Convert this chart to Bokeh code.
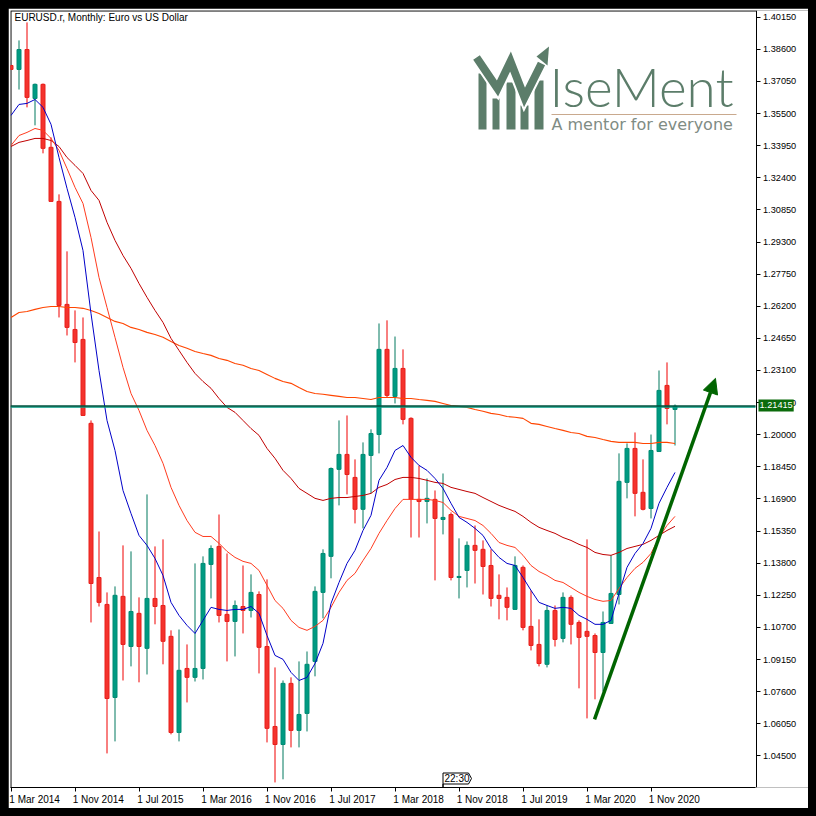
from bokeh.embed import file_html
from bokeh.models import Arrow, FixedTicker, Label, LinearAxis, NormalHead, Range1d
from bokeh.plotting import figure
from bokeh.resources import INLINE

# EURUSD.r monthly candles
opens = [1.3782, 1.3763, 1.3859, 1.3623, 1.3691, 1.3387, 1.3126, 1.2629, 1.2508, 1.2460, 1.2055, 1.1311,
         1.1181, 1.0732, 1.1220, 1.0978, 1.1138, 1.0969, 1.1210, 1.1176, 1.1027, 1.0563, 1.0872, 1.0829,
         1.0872, 1.1374, 1.1461, 1.1133, 1.1099, 1.1171, 1.1152, 1.1229, 1.0978, 1.0592, 1.0505, 1.0800,
         1.0573, 1.0655, 1.0906, 1.1239, 1.1413, 1.1833, 1.1905, 1.1794, 1.1640, 1.1900, 1.2001, 1.2412,
         1.2185, 1.2320, 1.2079, 1.1688, 1.1678, 1.1688, 1.1591, 1.1615, 1.1311, 1.1345, 1.1466, 1.1447,
         1.1369, 1.1225, 1.1215, 1.1157, 1.1360, 1.1075, 1.0988, 1.0892, 1.1152, 1.1017, 1.1215, 1.1094,
         1.1051, 1.1031, 1.0949, 1.1089, 1.1229, 1.1770, 1.1934, 1.1722, 1.1644, 1.1919, 1.2238, 1.2122]
highs = [1.3782, 1.3903, 1.3990, 1.3695, 1.3695, 1.3435, 1.3160, 1.2885, 1.2600, 1.2566, 1.2069, 1.1533,
         1.1239, 1.1268, 1.1466, 1.1437, 1.1215, 1.1712, 1.1461, 1.1495, 1.1056, 1.1060, 1.0988, 1.1379,
         1.1413, 1.1466, 1.1615, 1.1427, 1.1200, 1.1369, 1.1326, 1.1244, 1.1302, 1.0877, 1.0814, 1.0829,
         1.0906, 1.0954, 1.1268, 1.1447, 1.1842, 1.2069, 1.2093, 1.1881, 1.1963, 1.2026, 1.2537, 1.2552,
         1.2474, 1.2412, 1.2084, 1.1852, 1.1789, 1.1731, 1.1813, 1.1625, 1.1500, 1.1485, 1.1562, 1.1490,
         1.1447, 1.1326, 1.1263, 1.1413, 1.1369, 1.1249, 1.1109, 1.1176, 1.1176, 1.1239, 1.1225, 1.1104,
         1.1495, 1.1041, 1.1147, 1.1418, 1.1910, 1.1958, 1.2011, 1.1881, 1.2001, 1.2310, 1.2349, 1.2146]
lows = [1.3763, 1.3666, 1.3580, 1.3493, 1.3358, 1.3126, 1.2566, 1.2479, 1.2349, 1.2093, 1.1094, 1.1171,
        1.0462, 1.0520, 1.0814, 1.0882, 1.0805, 1.0843, 1.1085, 1.0892, 1.0554, 1.0520, 1.0708, 1.0809,
        1.0819, 1.1210, 1.1094, 1.0906, 1.0930, 1.1041, 1.1118, 1.0848, 1.0515, 1.0322, 1.0337, 1.0491,
        1.0491, 1.0568, 1.0834, 1.1114, 1.1307, 1.1659, 1.1712, 1.1572, 1.1548, 1.1717, 1.1910, 1.2180,
        1.2151, 1.2050, 1.1504, 1.1504, 1.1572, 1.1297, 1.1519, 1.1297, 1.1210, 1.1263, 1.1282, 1.1229,
        1.1171, 1.1109, 1.1104, 1.1157, 1.1056, 1.0959, 1.0882, 1.0877, 1.0978, 1.0998, 1.0988, 1.0776,
        1.0631, 1.0723, 1.0761, 1.1089, 1.1181, 1.1693, 1.1606, 1.1635, 1.1596, 1.1919, 1.2050, 1.1948]
closes = [1.3763, 1.3859, 1.3628, 1.3691, 1.3382, 1.3126, 1.2624, 1.2518, 1.2445, 1.2093, 1.1282, 1.1191,
          1.0727, 1.1225, 1.0988, 1.1147, 1.0978, 1.1210, 1.1171, 1.1003, 1.0563, 1.0863, 1.0829, 1.0872,
          1.1379, 1.1451, 1.1128, 1.1099, 1.1176, 1.1152, 1.1239, 1.0974, 1.0583, 1.0505, 1.0800, 1.0573,
          1.0650, 1.0892, 1.1244, 1.1427, 1.1837, 1.1905, 1.1808, 1.1640, 1.1905, 1.2006, 1.2412, 1.2190,
          1.2320, 1.2074, 1.1688, 1.1678, 1.1693, 1.1596, 1.1601, 1.1311, 1.1316, 1.1466, 1.1442, 1.1364,
          1.1210, 1.1210, 1.1167, 1.1369, 1.1070, 1.0983, 1.0896, 1.1152, 1.1012, 1.1215, 1.1085, 1.1022,
          1.1027, 1.0949, 1.1094, 1.1234, 1.1775, 1.1934, 1.1717, 1.1640, 1.1924, 1.2214, 1.2127, 1.2137]

# moving averages
ma_blue = [1.3541, 1.3594, 1.3599, 1.3618, 1.3580, 1.3498, 1.3338, 1.3189, 1.3049, 1.2889, 1.2585, 1.2310,
           1.2069, 1.1924, 1.1731, 1.1620, 1.1514, 1.1466, 1.1403, 1.1321, 1.1191, 1.1128, 1.1080, 1.1041,
           1.1104, 1.1167, 1.1157, 1.1152, 1.1157, 1.1157, 1.1171, 1.1138, 1.1031, 1.0935, 1.0916, 1.0853,
           1.0814, 1.0829, 1.0896, 1.0993, 1.1186, 1.1287, 1.1379, 1.1442, 1.1538, 1.1611, 1.1780, 1.1842,
           1.1924, 1.1948, 1.1891, 1.1852, 1.1828, 1.1789, 1.1741, 1.1669, 1.1601, 1.1577, 1.1548, 1.1514,
           1.1451, 1.1408, 1.1379, 1.1369, 1.1311, 1.1249, 1.1191, 1.1176, 1.1162, 1.1167, 1.1162, 1.1128,
           1.1109, 1.1085, 1.1085, 1.1104, 1.1234, 1.1360, 1.1427, 1.1475, 1.1548, 1.1669, 1.1746, 1.1818]
ma_red = [1.3396, 1.3444, 1.3459, 1.3478, 1.3469, 1.3430, 1.3372, 1.3285, 1.3194, 1.3116, 1.2952, 1.2759,
          1.2614, 1.2470, 1.2325, 1.2199, 1.2117, 1.2021, 1.1948, 1.1862, 1.1746, 1.1659, 1.1586, 1.1529,
          1.1509, 1.1509, 1.1476, 1.1437, 1.1408, 1.1389, 1.1379, 1.1345, 1.1273, 1.1200, 1.1162, 1.1104,
          1.1070, 1.1056, 1.1075, 1.1104, 1.1167, 1.1239, 1.1297, 1.1331, 1.1393, 1.1451, 1.1524, 1.1586,
          1.1644, 1.1688, 1.1688, 1.1688, 1.1688, 1.1683, 1.1673, 1.1635, 1.1606, 1.1596, 1.1586, 1.1562,
          1.1524, 1.1480, 1.1466, 1.1456, 1.1418, 1.1369, 1.1340, 1.1321, 1.1297, 1.1287, 1.1263, 1.1239,
          1.1220, 1.1205, 1.1196, 1.1200, 1.1258, 1.1311, 1.1355, 1.1384, 1.1427, 1.1504, 1.1562, 1.1606]
ma_darkred = [1.3391, 1.3411, 1.3420, 1.3430, 1.3430, 1.3420, 1.3391, 1.3338, 1.3300, 1.3261, 1.3179, 1.3131,
              1.3025, 1.2938, 1.2865, 1.2803, 1.2730, 1.2663, 1.2600, 1.2542, 1.2465, 1.2407, 1.2349, 1.2296,
              1.2257, 1.2224, 1.2175, 1.2132, 1.2108, 1.2069, 1.2030, 1.1997, 1.1934, 1.1886, 1.1828, 1.1789,
              1.1741, 1.1717, 1.1693, 1.1683, 1.1693, 1.1697, 1.1697, 1.1702, 1.1707, 1.1717, 1.1746, 1.1760,
              1.1784, 1.1794, 1.1794, 1.1789, 1.1780, 1.1770, 1.1765, 1.1746, 1.1736, 1.1726, 1.1717, 1.1697,
              1.1678, 1.1659, 1.1644, 1.1630, 1.1606, 1.1577, 1.1553, 1.1538, 1.1524, 1.1504, 1.1490, 1.1471,
              1.1456, 1.1432, 1.1422, 1.1418, 1.1432, 1.1451, 1.1461, 1.1471, 1.1490, 1.1514, 1.1538, 1.1558]
ma_orange = [1.2566, 1.2590, 1.2595, 1.2605, 1.2614, 1.2619, 1.2619, 1.2614, 1.2614, 1.2610, 1.2600, 1.2585,
             1.2566, 1.2547, 1.2537, 1.2518, 1.2508, 1.2494, 1.2484, 1.2470, 1.2450, 1.2431, 1.2417, 1.2402,
             1.2392, 1.2383, 1.2368, 1.2359, 1.2344, 1.2335, 1.2320, 1.2310, 1.2291, 1.2272, 1.2257, 1.2248,
             1.2228, 1.2209, 1.2199, 1.2195, 1.2190, 1.2185, 1.2180, 1.2180, 1.2175, 1.2170, 1.2180, 1.2180,
             1.2180, 1.2175, 1.2175, 1.2170, 1.2166, 1.2161, 1.2151, 1.2141, 1.2137, 1.2132, 1.2122, 1.2113,
             1.2103, 1.2098, 1.2088, 1.2084, 1.2079, 1.2055, 1.2050, 1.2040, 1.2030, 1.2021, 1.2011, 1.2006,
             1.1992, 1.1987, 1.1977, 1.1968, 1.1963, 1.1963, 1.1963, 1.1958, 1.1958, 1.1963, 1.1963, 1.1958]

x_tick_labels = ["1 Mar 2014", "1 Nov 2014", "1 Jul 2015", "1 Mar 2016", "1 Nov 2016", "1 Jul 2017",
                 "1 Mar 2018", "1 Nov 2018", "1 Jul 2019", "1 Mar 2020", "1 Nov 2020"]
price_ticks = [1.04500, 1.06050, 1.07600, 1.09150, 1.10700, 1.12250, 1.13800, 1.15350, 1.16900, 1.18450,
               1.20000, 1.21550, 1.23100, 1.24650, 1.26200, 1.27750, 1.29300, 1.30850, 1.32400, 1.33950,
               1.35500, 1.37050, 1.38600, 1.40150]
bid_price = 1.21415
bid_line = 1.2139
ask_line = 1.2134
trend_x = [72.94, 88.06]
trend_y = [1.0626, 1.2272]

GREEN = "#009A82"
GREEN_EDGE = "#008C74"
GREEN_WICK = "#00795F"
RED = "#F4332D"
RED_EDGE = "#E8201C"
RED_WICK = "#F00000"
LOGO = "#5C7D6A"
FONT = "Liberation Sans"

# the frame runs to the white edge at pixel 808 so the price tag is not clipped;
# the chart's own box ends at pixel 755, where the price axis is fixed
x0 = -0.0625
x1 = 99.6875
y_top = 1.40474
y_bot = 1.02975


def px(x):
    return x0 + (x - 10) / 8


def py(y):
    return y_top - (y - 10) * (y_top - y_bot) / 777


p = figure(width=800, height=800, output_backend="svg", toolbar_location=None, tools="",
           x_range=Range1d(x0, x1), y_range=Range1d(y_bot, y_top), y_axis_location=None,
           min_border_left=2, min_border_top=2, min_border_right=0, min_border_bottom=21)
p.grid.visible = False
p.outline_line_color = None
p.background_fill_color = "white"
p.border_fill_color = "white"

# ticks are the minor ticks; the labels sit half their width further on so they start at the tick
half_width = {"Mar": 2.95, "Nov": 2.91, "Jul": 2.68}
tick_xs = [i * 8 for i in range(len(x_tick_labels))]
label_xs = [t + half_width[s.split()[1]] for t, s in zip(tick_xs, x_tick_labels)]
p.xaxis.ticker = FixedTicker(ticks=label_xs, minor_ticks=tick_xs)
p.xaxis.major_label_overrides = dict(zip(label_xs, x_tick_labels))
p.xaxis.bounds = (x0, px(755))
p.xaxis.axis_line_color = "black"
p.xaxis.major_tick_line_color = None
p.xaxis.major_tick_in = 0
p.xaxis.major_tick_out = 4
p.xaxis.minor_tick_line_color = "black"
p.xaxis.minor_tick_in = 0
p.xaxis.minor_tick_out = 4
p.xaxis.major_label_standoff = 2
p.xaxis.major_label_text_font = FONT
p.xaxis.major_label_text_font_size = "10px"
p.xaxis.major_label_text_color = "black"

price_axis = LinearAxis(fixed_location=px(755.5), ticker=FixedTicker(ticks=price_ticks),
                        major_label_overrides={t: "%.5f" % t for t in price_ticks})
price_axis.axis_line_color = "black"
price_axis.major_tick_line_color = "black"
price_axis.minor_tick_line_color = None
price_axis.major_tick_in = 0
price_axis.major_tick_out = 4
price_axis.major_label_standoff = 3
price_axis.major_label_text_font = FONT
price_axis.major_label_text_font_size = "9.2px"
price_axis.major_label_text_color = "black"
p.add_layout(price_axis, "right")

# top and left edges of the box
p.line([px(10.5), px(10.5), px(755.5)], [py(787), py(10.5), py(10.5)], line_color="black", line_width=1)

# candles
xs = list(range(len(closes)))
up = [c >= o for o, c in zip(opens, closes)]
p.segment(xs, highs, xs, lows, line_width=1,
          line_color=[GREEN_WICK if u else RED_WICK for u in up])
p.vbar(x=xs, width=0.5, top=[max(o, c) for o, c in zip(opens, closes)],
       bottom=[min(o, c) for o, c in zip(opens, closes)],
       fill_color=[GREEN if u else RED for u in up],
       line_color=[GREEN_EDGE if u else RED_EDGE for u in up], line_width=1)

# moving averages
p.line(xs, ma_orange, line_color="#FF4500", line_width=1.1)
p.line(xs, ma_darkred, line_color="#C00000", line_width=1)
p.line(xs, ma_red, line_color="#FF3B1F", line_width=1)
p.line(xs, ma_blue, line_color="#0000C8", line_width=1)

# bid/ask lines
p.segment([x0], [ask_line], [px(755)], [ask_line], line_color="#009A82", line_width=1.4)
p.segment([x0], [bid_line], [px(755)], [bid_line], line_color="#00503C", line_width=1.4)

# price tag over the axis labels
p.add_layout(Label(x=px(758), y=bid_price, text="%.5f" % bid_price, text_font=FONT, text_font_size="9.2px",
                   text_color="white", text_baseline="middle", background_fill_color="#0B6B0B",
                   padding=(1, 3)))

# trend arrow
p.add_layout(Arrow(end=NormalHead(size=15, fill_color="#006400", line_color="#006400"),
                   x_start=trend_x[0], y_start=trend_y[0], x_end=trend_x[1], y_end=trend_y[1],
                   line_color="#006400", line_width=3.5))

# title
p.add_layout(Label(x=px(14), y=py(17), text="EURUSD.r, Monthly:  Euro vs US Dollar", text_font=FONT,
                   text_font_size="10px", text_color="black", text_baseline="middle"))

# period timer box
p.patch([px(442.5), px(442.5), px(468), px(471), px(468), px(442.5)],
        [py(787), py(772.5), py(772.5), py(778), py(783.5), py(783.5)],
        fill_color="white", line_color="black", line_width=1)
p.add_layout(Label(x=px(444), y=py(778), text="22:30", text_font=FONT, text_font_size="10px",
                   text_color="black", text_baseline="middle"))

# logo
p.quad(left=[px(v) for v in [478, 492, 506, 520, 534]], right=[px(v) for v in [486, 499, 515, 528, 543]],
       top=[py(v) for v in [73, 98, 82, 105, 80]], bottom=[py(129)] * 5, fill_color=LOGO, line_color=None)
zig_x = [px(v) for v in [476, 497, 510, 524, 541]]
zig_y = [py(v) for v in [57, 88, 61, 97, 63]]
p.line(zig_x, zig_y, line_color="white", line_width=12, line_join="miter")
p.line(zig_x, zig_y, line_color=LOGO, line_width=8, line_join="miter")
p.patch([px(548.5), px(536), px(547)], [py(46), py(56), py(65)], fill_color=LOGO, line_color=None)
p.segment([px(551)], [py(114)], [px(736)], [py(114)], line_color="#C9A98E", line_width=1)
p.add_layout(Label(x=px(549), y=py(86), text="IseMent", text_font="Lato Light", text_font_size="53px",
                   text_color=LOGO, text_baseline="middle"))
p.add_layout(Label(x=px(551), y=py(124), text="A mentor for everyone", text_font="DejaVu Sans",
                   text_font_size="16px", text_color="#7F8C84", text_baseline="middle"))

html = file_html(p, INLINE).replace("<body>", '<body style="background:#000;margin:8px;height:auto">')
open("out.html", "w").write(html)
